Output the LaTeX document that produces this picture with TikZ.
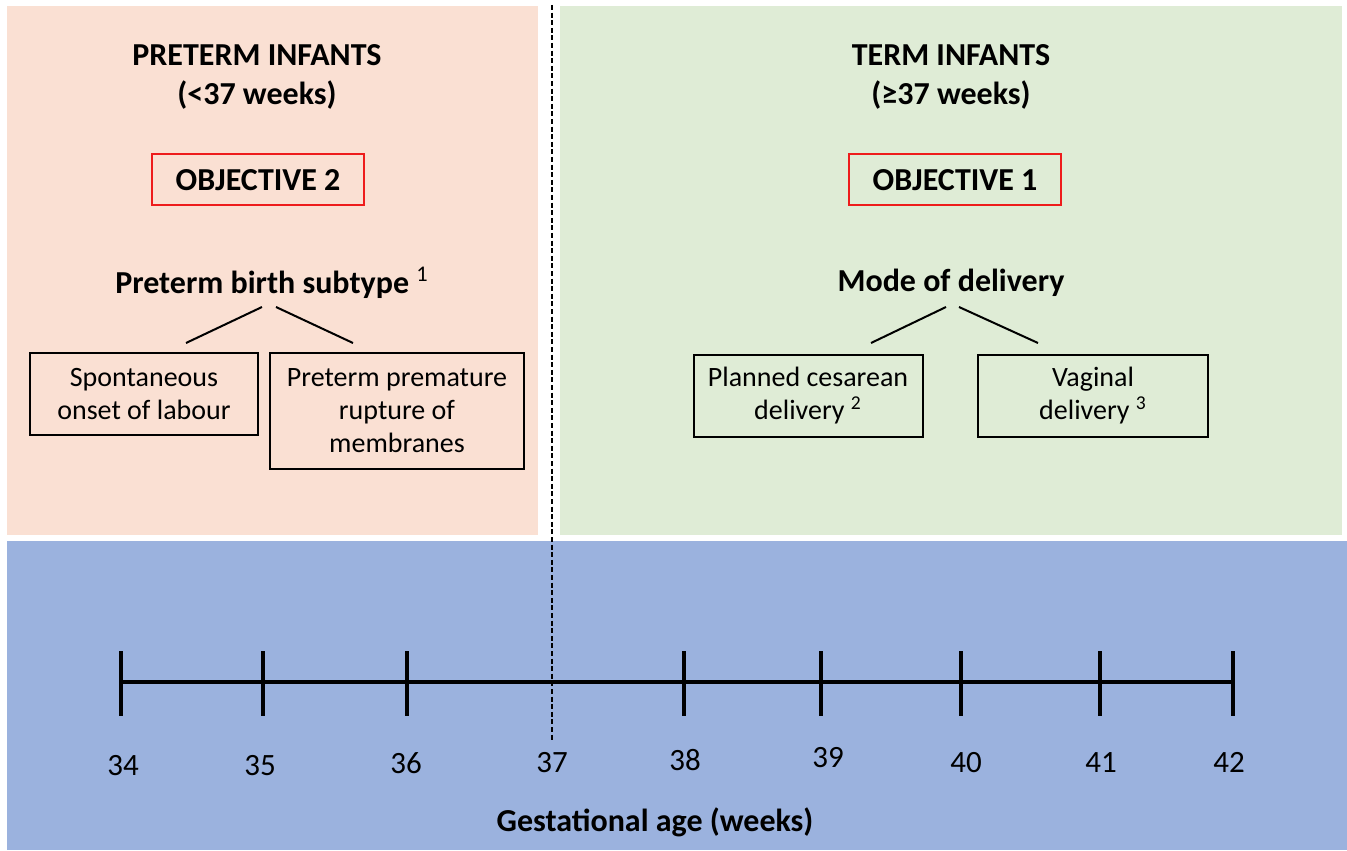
\documentclass[tikz,border=0pt]{standalone}
\usepackage{fontspec}
\setmainfont{Carlito}

\definecolor{pretermbg}{HTML}{FAE0D3}
\definecolor{termbg}{HTML}{DFECD6}
\definecolor{timebg}{HTML}{9BB2DE}
\definecolor{objred}{HTML}{EE1C1C}

\tikzset{
  heading/.style={align=center, font=\bfseries\fontsize{16}{19.5}\selectfont},
  objective/.style={draw=objred, line width=1pt, minimum width=106pt,
    minimum height=25.5pt, inner sep=0pt, font=\bfseries\fontsize{16}{19.5}\selectfont},
  outcome/.style={draw, line width=1pt, align=center, inner sep=0pt,
    font=\fontsize{14}{16.5}\selectfont},
  week/.style={font=\fontsize{15.5}{18}\selectfont}
}

\begin{document}
\begin{tikzpicture}[x=0.5pt, y=-0.5pt]
            \useasboundingbox (0,0) rectangle (1347,850);
            
            % panels
            \fill [pretermbg] (7,6) rectangle (538,535);
            \fill [termbg] (560,6) rectangle (1342,535);
            \fill [timebg] (7,541) rectangle (1347,850);
            
            % headings
            \node [heading] (preterm) at (257,77) {PRETERM INFANTS\\(<37 weeks)};
            \node [heading] (term) at (951,77) {TERM INFANTS\\(≥37 weeks)};
            
            \node [objective] (objective-2) at (258,180) {OBJECTIVE 2};
            \node [objective] (objective-1) at (955,180) {OBJECTIVE 1};
            
            \node [heading] (subtype) at (272,283) {Preterm birth subtype \textsuperscript{\mdseries 1}};
            \node [heading] (mode) at (951,283) {Mode of delivery};
            
            % outcome boxes
            \node [outcome, minimum width=114pt, minimum height=41pt] (subtype-1) at (144,394)
            {Spontaneous\\onset of labour};
            \node [outcome, minimum width=127pt, minimum height=58pt] (subtype-2) at (397,411)
            {Preterm premature\\rupture of\\membranes};
            \node [outcome, minimum width=114.5pt, minimum height=41pt] (mode-1) at (808,396)
            {Planned cesarean\\delivery \textsuperscript{2}};
            \node [outcome, minimum width=115pt, minimum height=41pt] (mode-2) at (1093,396)
            {Vaginal\\delivery \textsuperscript{3}};
            
            % forks
            \foreach \n/\a/\b in {subtype-l/262/186, subtype-r/276/353, mode-l/946/871, mode-r/959/1038}
            {
            \coordinate (\n-top) at (\a,307);
            \coordinate (\n-end) at (\b,343);
            \draw [line width=1pt] (\n-top) -- (\n-end);
            }
            
            % timeline
            \foreach \w/\x/\lx/\ly in {34/121/123/766, 35/263/260/766, 36/407/406/763, 37/552/552/763,
              38/684/685/760, 39/821/828/758, 40/961/966/763, 41/1100/1101/763, 42/1233/1229/762}
            {
            \coordinate (tick-\w) at (\x,682);
            \node [week] (week-\w) at (\lx,\ly) {\w};
            }
            
            \draw [line width=2pt] (tick-34) -- (tick-42);
            \foreach \w in {34,35,36,38,39,40,41,42}
            \draw [line width=2pt] (tick-\w) ++(0,-31) -- ++(0,65);
            
            \node [heading] (axis) at (655,822) {Gestational age (weeks)};
            
            % 37 weeks split
            \coordinate (split-top) at (552,5);
            \coordinate (split-bottom) at (552,740);
            \draw [line width=1.2pt, dash pattern=on 2.5pt off 1.3pt] (split-top) -- (split-bottom);
        \end{tikzpicture}
\end{document}
